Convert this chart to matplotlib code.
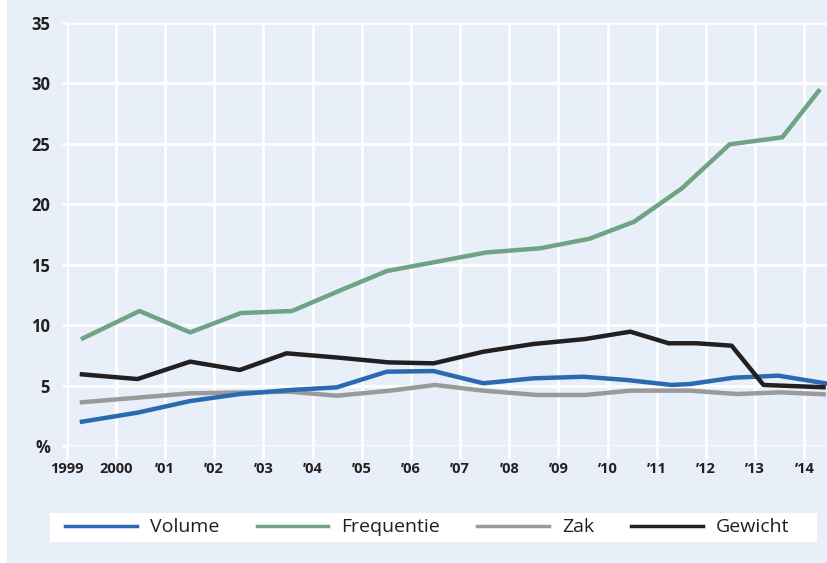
import matplotlib
matplotlib.use("Agg")
import matplotlib.pyplot as plt
from matplotlib.patches import Rectangle

# values (x in fractional years, y in %)
years = list(range(1999, 2015))
year_labels = ["1999", "2000", "’01", "’02", "’03", "’04", "’05", "’06", "’07",
               "’08", "’09", "’10", "’11", "’12", "’13", "’14"]
y_ticks = [0, 5, 10, 15, 20, 25, 30, 35]
y_labels = ["%", "5", "10", "15", "20", "25", "30", "35"]

volume_x = [1999.31, 2000.44, 2001.51, 2002.52, 2003.54, 2004.49, 2005.51, 2006.46,
            2007.47, 2008.49, 2009.51, 2010.39, 2011.30, 2011.68, 2012.56, 2013.47, 2014.42]
volume_y = [2.01, 2.76, 3.72, 4.30, 4.63, 4.85, 6.15, 6.20,
            5.19, 5.60, 5.73, 5.46, 5.05, 5.13, 5.65, 5.82, 5.19]

freq_x = [1999.33, 2000.48, 2001.51, 2002.54, 2003.58, 2004.56, 2005.51, 2006.49,
          2007.54, 2008.63, 2009.63, 2010.54, 2011.51, 2012.48, 2013.55, 2014.29]
freq_y = [8.91, 11.17, 9.40, 11.00, 11.17, 12.87, 14.48, 15.22,
          16.02, 16.36, 17.15, 18.56, 21.32, 24.96, 25.54, 29.37]

zak_x = [1999.31, 2000.44, 2001.51, 2003.54, 2004.49, 2005.58, 2006.49, 2007.47,
         2008.56, 2009.54, 2010.46, 2011.68, 2012.63, 2013.51, 2014.39]
zak_y = [3.62, 4.00, 4.36, 4.49, 4.16, 4.58, 5.05, 4.58,
         4.22, 4.22, 4.58, 4.58, 4.30, 4.44, 4.28]

gewicht_x = [1999.31, 2000.44, 2001.51, 2002.52, 2003.47, 2004.56, 2005.54, 2006.46,
             2007.47, 2008.49, 2009.54, 2010.46, 2011.24, 2011.81, 2012.52, 2013.17, 2014.39]
gewicht_y = [5.93, 5.54, 6.98, 6.29, 7.67, 7.30, 6.92, 6.84,
             7.80, 8.44, 8.85, 9.46, 8.50, 8.50, 8.30, 5.05, 4.86]

bg = "#e8eff8"
ink = "#231f20"
c_volume = "#2b69b1"
c_freq = "#6fa383"
c_zak = "#9a9a9a"
c_gewicht = "#231f20"

fig = plt.figure(figsize=(8.27, 5.63), dpi=100, facecolor=bg)
# thin white strip at the left edge and the white legend band
fig.patches.append(Rectangle((0, 0), 7 / 827, 1, transform=fig.transFigure,
                             facecolor="white", edgecolor="none", zorder=0))
fig.patches.append(Rectangle((50 / 827, 21 / 563), 767 / 827, 29 / 563,
                             transform=fig.transFigure, facecolor="white",
                             edgecolor="none", zorder=0))

ax = fig.add_axes([66.7 / 827, 117 / 563, 1 - 66.7 / 827, 423 / 563])
ax.set_facecolor(bg)
for s in ax.spines.values():
    s.set_visible(False)

ax.set_xlim(1999, 2014.46)
ax.set_ylim(0, 35)
ax.set_xticks(years)
ax.set_xticklabels(year_labels)
ax.set_yticks(y_ticks)
ax.set_yticklabels(y_labels)
ax.grid(True, color="white", linewidth=2)
ax.set_axisbelow(True)
ax.tick_params(axis="x", length=9.4, width=2, color="white", pad=2,
               labelsize=10.5, labelcolor=ink)
ax.tick_params(axis="y", length=3.4, width=2, color="white", pad=8.6,
               labelsize=12, labelcolor=ink)
for lab in ax.get_xticklabels() + ax.get_yticklabels():
    lab.set_fontfamily("Open Sans")
    lab.set_fontweight("bold")

lw = 3.2
ax.plot(zak_x, zak_y, color=c_zak, lw=lw, label="Zak", zorder=3)
ax.plot(volume_x, volume_y, color=c_volume, lw=lw, label="Volume", zorder=4)
ax.plot(gewicht_x, gewicht_y, color=c_gewicht, lw=lw, label="Gewicht", zorder=5)
ax.plot(freq_x, freq_y, color=c_freq, lw=lw, label="Frequentie", zorder=6)

h = {l.get_label(): l for l in ax.get_lines()}
order = ["Volume", "Frequentie", "Zak", "Gewicht"]
leg = fig.legend([h[k] for k in order], order, loc="center", ncol=4,
                 bbox_to_anchor=(427.5 / 827, 35.5 / 563),
                 frameon=False, handlelength=3.7, handletextpad=0.67,
                 columnspacing=1.9, borderpad=0, borderaxespad=0,
                 prop={"family": "Open Sans", "size": 14})
for line in leg.get_lines():
    line.set_linewidth(2.5)
for t in leg.get_texts():
    t.set_color(ink)

fig.savefig("out.png", dpi=100, facecolor=bg)
